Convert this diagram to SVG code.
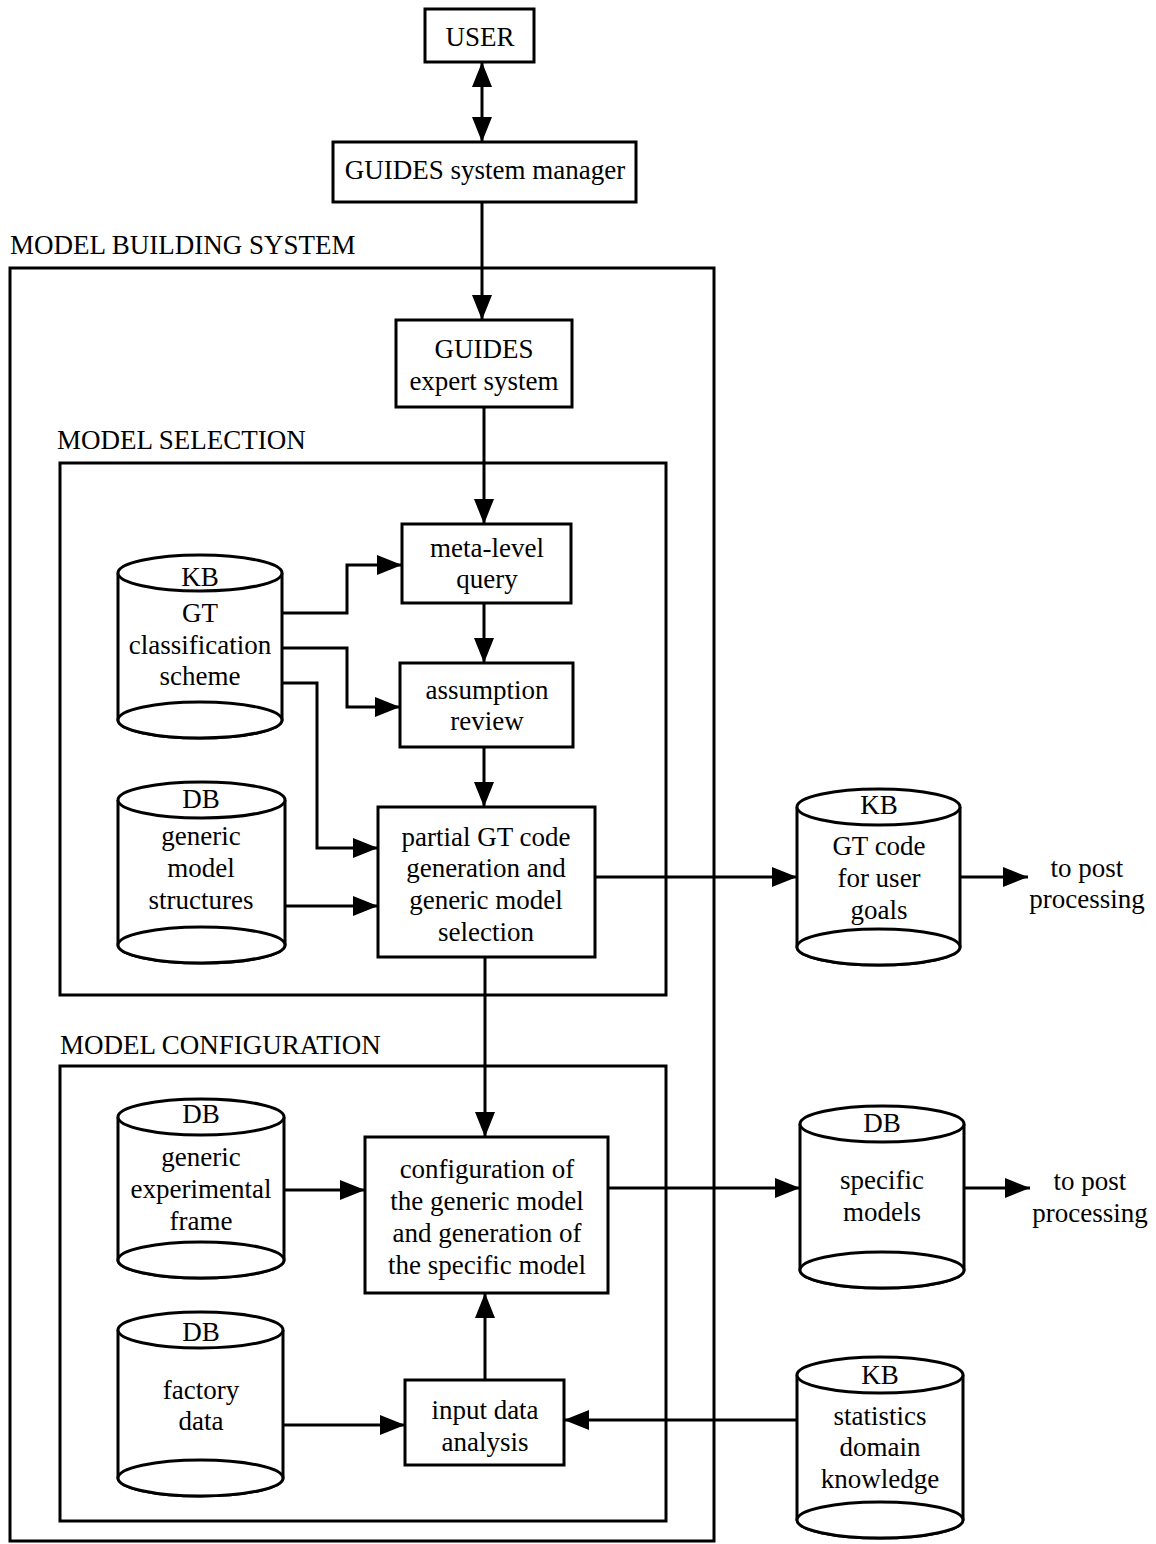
<svg xmlns="http://www.w3.org/2000/svg" width="1156" height="1544" viewBox="0 0 1156 1544">
<style>
text{font-family:"Liberation Serif","Times New Roman",serif;font-size:27px;fill:#000;text-anchor:middle}
.lbl{text-anchor:start}
.box{fill:#fff;stroke:#000;stroke-width:3}
.frame{fill:none;stroke:#000;stroke-width:3}
.cyl{fill:#fff;stroke:#000;stroke-width:3}
.con{fill:none;stroke:#000;stroke-width:3;marker-end:url(#ah)}
</style>
<defs>
<marker id="ah" markerUnits="userSpaceOnUse" markerWidth="25" markerHeight="20" refX="25" refY="10" orient="auto-start-reverse">
<path d="M0,0 L25,10 L0,20 z" fill="#000"/>
</marker>
</defs>
<rect width="1156" height="1544" fill="#fff"/>

<g id="model-building-system">
<rect class="frame" x="10" y="268" width="704" height="1273"/>
<text class="lbl" x="10" y="254">MODEL BUILDING SYSTEM</text>
</g>
<g id="model-selection">
<rect class="frame" x="60" y="463" width="606" height="532"/>
<text class="lbl" x="57" y="449">MODEL SELECTION</text>
</g>
<g id="model-configuration">
<rect class="frame" x="60" y="1066" width="606" height="455"/>
<text class="lbl" x="60" y="1054">MODEL CONFIGURATION</text>
</g>

<g id="connectors">
<line class="con" x1="482" y1="142" x2="482" y2="62" style="marker-start:url(#ah)"/>
<line class="con" x1="482" y1="202" x2="482" y2="320"/>
<line class="con" x1="484" y1="407" x2="484" y2="524"/>
<line class="con" x1="484" y1="603" x2="484" y2="663"/>
<line class="con" x1="484" y1="747" x2="484" y2="807"/>
<path class="con" d="M282,613 H347 V565 H402"/>
<path class="con" d="M282,648 H347 V707 H400"/>
<path class="con" d="M282,683 H317 V848 H378"/>
<path class="con" d="M285,906 H378"/>
<path class="con" d="M595,877 H797"/>
<path class="con" d="M960,877 H1028"/>
<line class="con" x1="485" y1="957" x2="485" y2="1137"/>
<path class="con" d="M284,1190 H365"/>
<path class="con" d="M608,1188 H800"/>
<path class="con" d="M964,1188 H1030"/>
<path class="con" d="M283,1425 H405"/>
<path class="con" d="M797,1420 H564"/>
<line class="con" x1="485" y1="1380" x2="485" y2="1293"/>
</g>

<g id="user">
<rect class="box" x="425" y="9" width="109" height="53"/>
<text x="480" y="46">USER</text>
</g>
<g id="system-manager">
<rect class="box" x="333" y="142" width="303" height="60"/>
<text x="485" y="179">GUIDES system manager</text>
</g>
<g id="expert-system">
<rect class="box" x="396" y="320" width="176" height="87"/>
<text x="484" y="358">GUIDES</text>
<text x="484" y="390">expert system</text>
</g>
<g id="meta-level-query">
<rect class="box" x="402" y="524" width="169" height="79"/>
<text x="487" y="557">meta-level</text>
<text x="487" y="588">query</text>
</g>
<g id="assumption-review">
<rect class="box" x="400" y="663" width="173" height="84"/>
<text x="487" y="699">assumption</text>
<text x="487" y="730">review</text>
</g>
<g id="partial-gt-code">
<rect class="box" x="378" y="807" width="217" height="150"/>
<text x="486" y="846">partial GT code</text>
<text x="486" y="877">generation and</text>
<text x="486" y="909">generic model</text>
<text x="486" y="941">selection</text>
</g>
<g id="configuration">
<rect class="box" x="365" y="1137" width="243" height="156"/>
<text x="487" y="1178">configuration of</text>
<text x="487" y="1210">the generic model</text>
<text x="487" y="1242">and generation of</text>
<text x="487" y="1274">the specific model</text>
</g>
<g id="input-data-analysis">
<rect class="box" x="405" y="1380" width="159" height="85"/>
<text x="485" y="1419">input data</text>
<text x="485" y="1451">analysis</text>
</g>

<g id="kb-gt-classification">
<path class="cyl" d="M118,573 V720 A82,18 0 0 0 282,720 V573"/>
<ellipse class="cyl" cx="200" cy="720" rx="82" ry="18"/>
<ellipse class="cyl" cx="200" cy="573" rx="82" ry="18"/>
<text x="200" y="586">KB</text>
<text x="200" y="622">GT</text>
<text x="200" y="654">classification</text>
<text x="200" y="685">scheme</text>
</g>
<g id="db-generic-model-structures">
<path class="cyl" d="M118,800 V945 A83.5,18 0 0 0 285,945 V800"/>
<ellipse class="cyl" cx="201.5" cy="945" rx="83.5" ry="18"/>
<ellipse class="cyl" cx="201.5" cy="800" rx="83.5" ry="18"/>
<text x="201" y="808">DB</text>
<text x="201" y="845">generic</text>
<text x="201" y="877">model</text>
<text x="201" y="909">structures</text>
</g>
<g id="kb-gt-code-user-goals">
<path class="cyl" d="M797,807 V947 A81.5,18 0 0 0 960,947 V807"/>
<ellipse class="cyl" cx="878.5" cy="947" rx="81.5" ry="18"/>
<ellipse class="cyl" cx="878.5" cy="807" rx="81.5" ry="18"/>
<text x="879" y="814">KB</text>
<text x="879" y="855">GT code</text>
<text x="879" y="887">for user</text>
<text x="879" y="919">goals</text>
</g>
<g id="post-processing-1">
<text x="1087" y="877">to post</text>
<text x="1087" y="908">processing</text>
</g>
<g id="db-generic-experimental-frame">
<path class="cyl" d="M118,1117 V1260 A83,18 0 0 0 284,1260 V1117"/>
<ellipse class="cyl" cx="201" cy="1260" rx="83" ry="18"/>
<ellipse class="cyl" cx="201" cy="1117" rx="83" ry="18"/>
<text x="201" y="1123">DB</text>
<text x="201" y="1166">generic</text>
<text x="201" y="1198">experimental</text>
<text x="201" y="1230">frame</text>
</g>
<g id="db-specific-models">
<path class="cyl" d="M800,1124 V1270 A82,18 0 0 0 964,1270 V1124"/>
<ellipse class="cyl" cx="882" cy="1270" rx="82" ry="18"/>
<ellipse class="cyl" cx="882" cy="1124" rx="82" ry="18"/>
<text x="882" y="1132">DB</text>
<text x="882" y="1189">specific</text>
<text x="882" y="1221">models</text>
</g>
<g id="post-processing-2">
<text x="1090" y="1190">to post</text>
<text x="1090" y="1222">processing</text>
</g>
<g id="db-factory-data">
<path class="cyl" d="M118,1330 V1478 A82.5,18 0 0 0 283,1478 V1330"/>
<ellipse class="cyl" cx="200.5" cy="1478" rx="82.5" ry="18"/>
<ellipse class="cyl" cx="200.5" cy="1330" rx="82.5" ry="18"/>
<text x="201" y="1341">DB</text>
<text x="201" y="1399">factory</text>
<text x="201" y="1430">data</text>
</g>
<g id="kb-statistics">
<path class="cyl" d="M797,1375 V1520 A83,18 0 0 0 963,1520 V1375"/>
<ellipse class="cyl" cx="880" cy="1520" rx="83" ry="18"/>
<ellipse class="cyl" cx="880" cy="1375" rx="83" ry="18"/>
<text x="880" y="1384">KB</text>
<text x="880" y="1425">statistics</text>
<text x="880" y="1456">domain</text>
<text x="880" y="1488">knowledge</text>
</g>
</svg>
